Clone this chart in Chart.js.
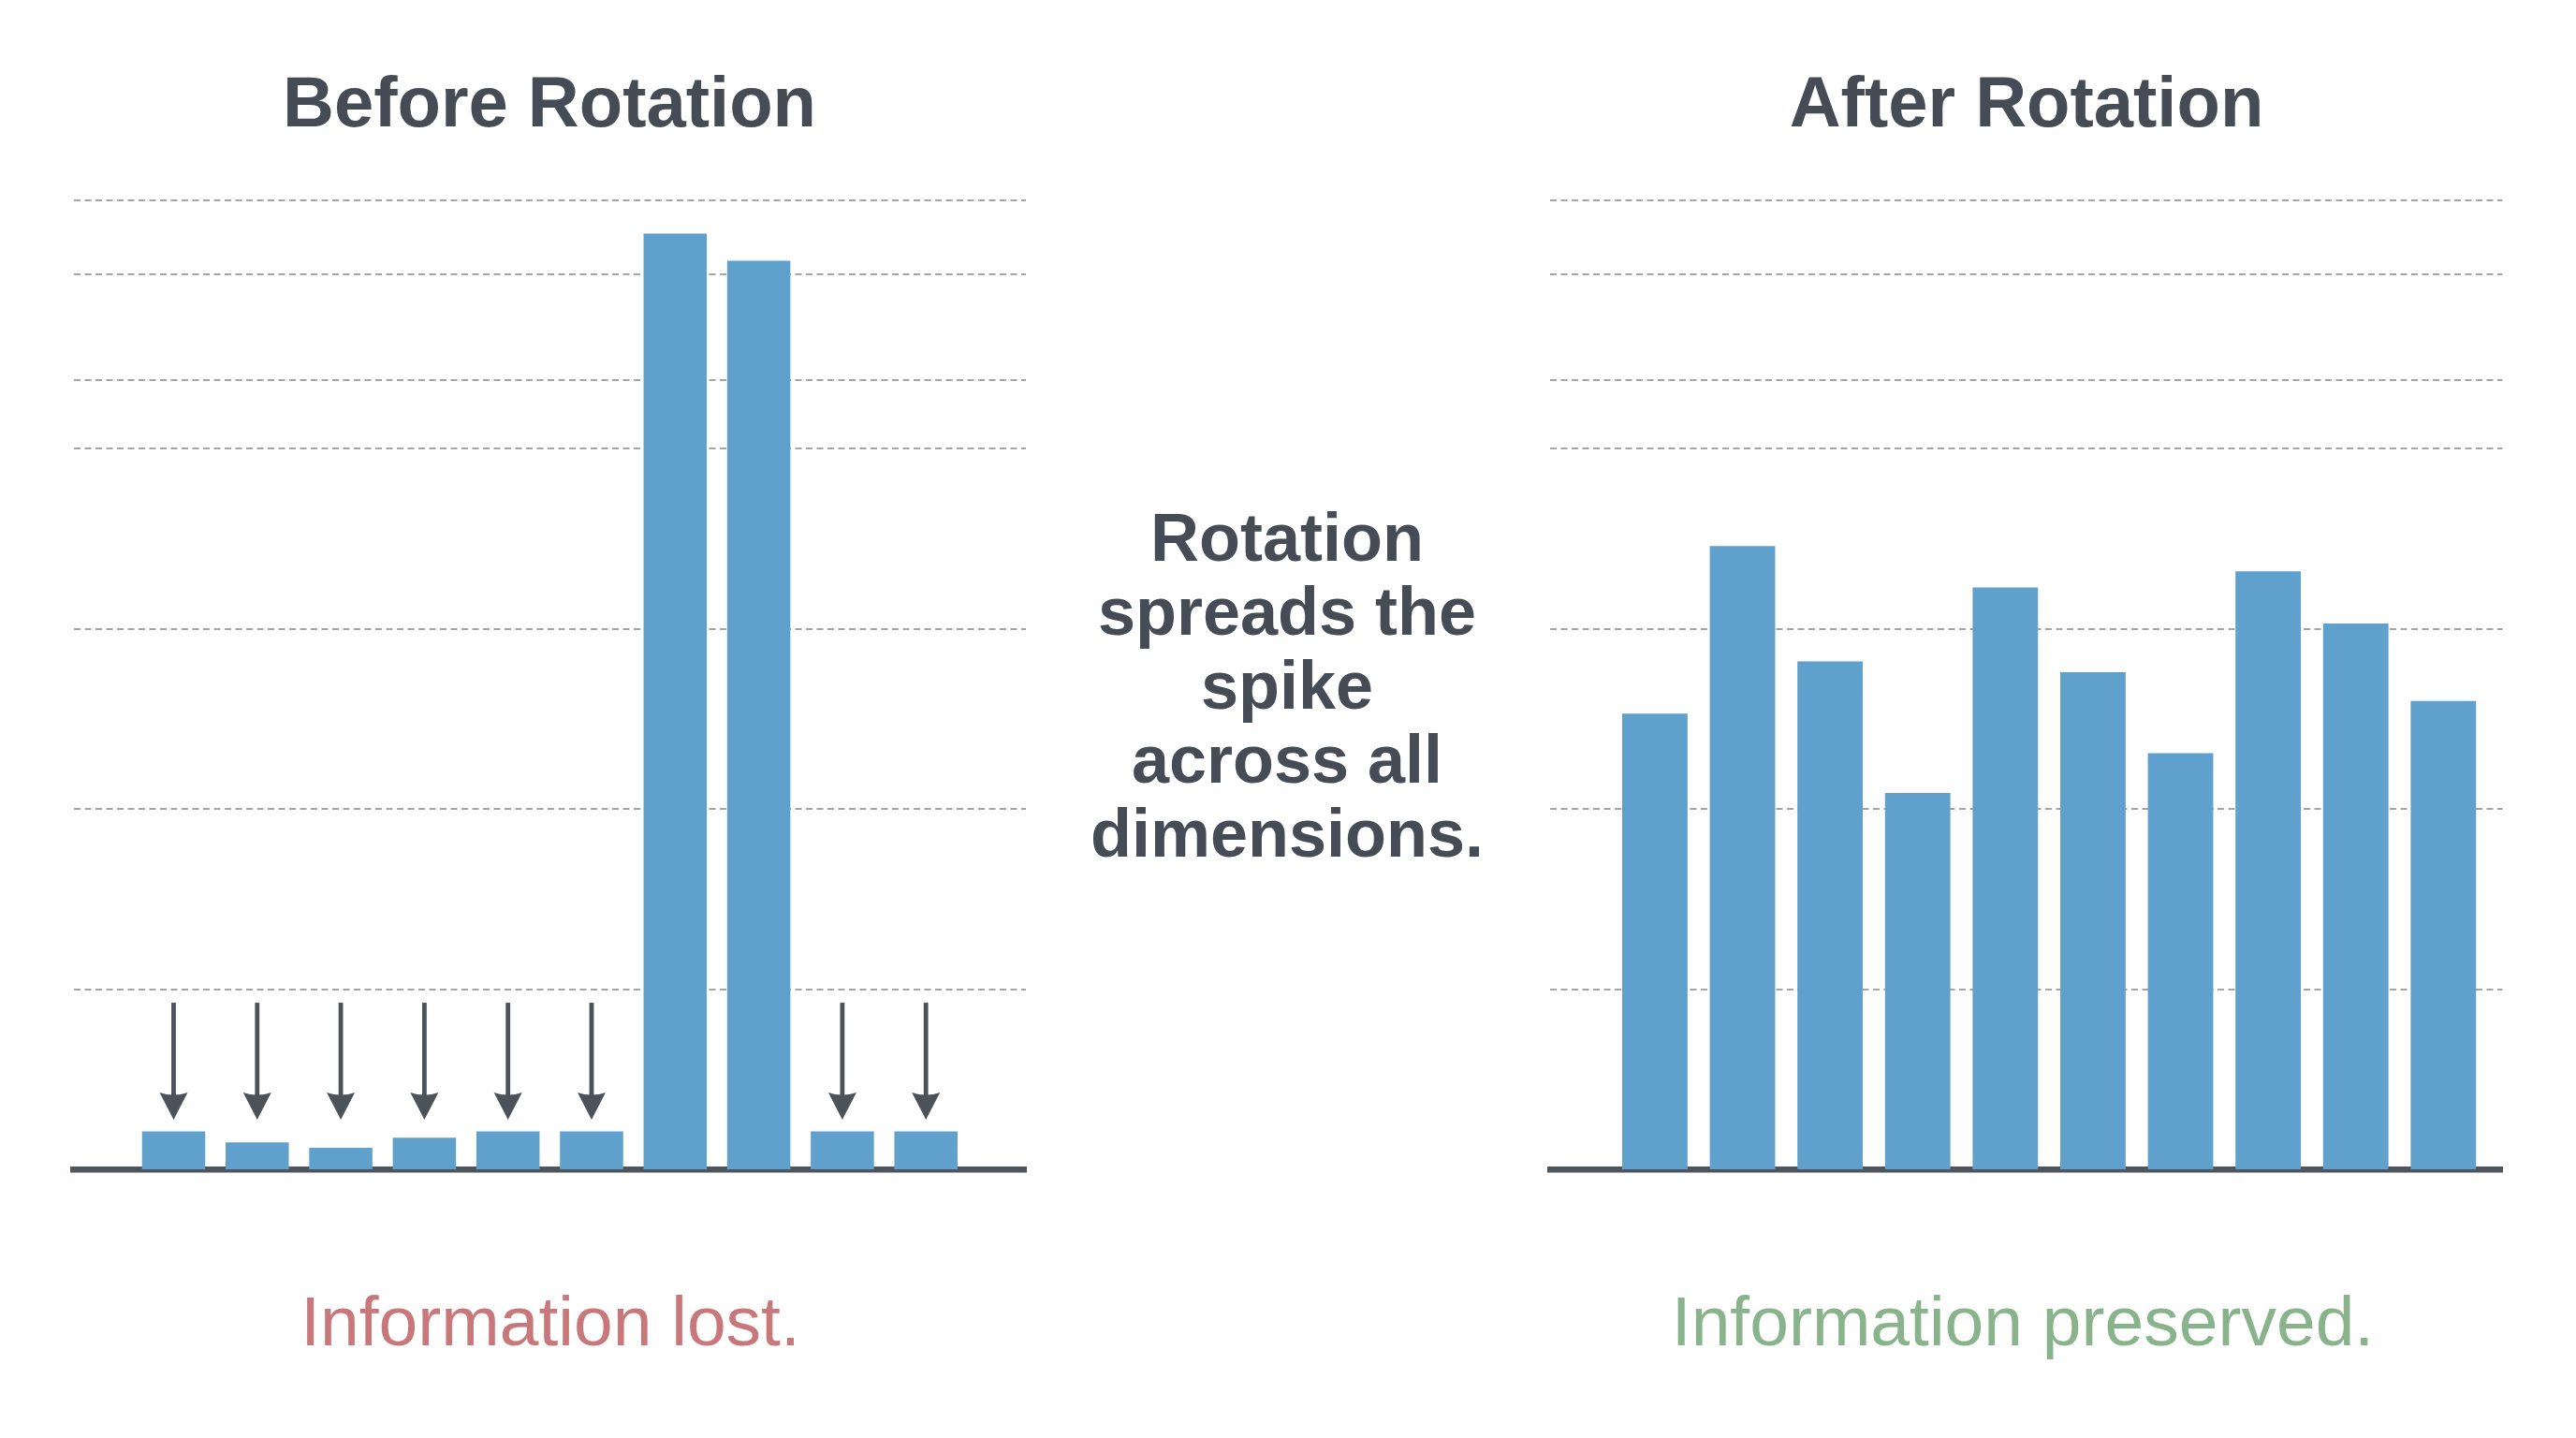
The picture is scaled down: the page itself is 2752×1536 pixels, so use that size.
<!DOCTYPE html>
<html>
<head>
<meta charset="utf-8">
<title>Rotation spreads the spike</title>
<script src="https://cdn.jsdelivr.net/npm/chart.js@4.4.1/dist/chart.umd.min.js"></script>
<style>
body{margin:0;background:#fff;width:2752px;height:1536px;position:relative;overflow:hidden;font-family:"Liberation Sans",Arial,Helvetica,sans-serif;}
canvas{position:absolute;top:0;width:1376px;height:1536px;}
#before{left:0;}
#after{left:1376px;}
.txt{position:absolute;text-align:center;white-space:nowrap;width:1200px;}
.title{font-weight:bold;font-size:76px;line-height:76px;color:#454c55;top:71px;}
.note{font-size:75px;line-height:75px;top:1374px;}
.lost{color:#c8777a;}
.kept{color:#88b38b;}
#middle{font-weight:bold;font-size:72px;line-height:79px;color:#454c55;top:535px;width:600px;left:1075px;}
</style>
</head>
<body>
<div class="txt title" style="left:-13px">Before Rotation</div>
<div class="txt title" style="left:1565px">After Rotation</div>
<div class="txt" id="middle">Rotation<br>spreads the<br>spike<br>across all<br>dimensions.</div>
<div class="txt note lost" style="left:-12px">Information lost.</div>
<div class="txt note kept" style="left:1561px">Information preserved.</div>
<canvas id="before" width="1376" height="1536"></canvas>
<canvas id="after" width="1376" height="1536"></canvas>
<script>
// dimensions 0..9
var dims = [0, 1, 2, 3, 4, 5, 6, 7, 8, 9];
// magnitude per dimension, before and after the rotation
var beforeValues = [0.21, 0.15, 0.12, 0.175, 0.21, 0.21, 5.195, 5.045, 0.21, 0.21];
var afterValues = [2.53, 3.46, 2.82, 2.09, 3.23, 2.76, 2.31, 3.32, 3.03, 2.60];
// dashed guide lines
var gridValues = [1, 2, 3, 4, 4.38, 4.97, 5.38];
// which small bars get a "lost" arrow, and the arrow span
var arrowFlags = [1, 1, 1, 1, 1, 1, 0, 0, 1, 1];
var arrowFrom = 0.925;
var arrowTo = 0.276;

var barColor = '#5fa0cc';
var darkColor = '#4b525a';

var arrowPlugin = {
	id: 'arrows',
	afterDraw: function(chart, args, opts) {
		if (!opts || !opts.flags) return;
		var ctx = chart.ctx, xs = chart.scales.x, ys = chart.scales.y;
		var y0 = ys.getPixelForValue(opts.from);
		var y1 = ys.getPixelForValue(opts.to);
		ctx.save();
		ctx.strokeStyle = darkColor;
		ctx.fillStyle = darkColor;
		ctx.lineWidth = 4.8;
		opts.flags.forEach(function(f, i) {
			if (!f) return;
			var px = xs.getPixelForValue(dims[i]);
			ctx.beginPath();
			ctx.moveTo(px, y0);
			ctx.lineTo(px, y1 - 20);
			ctx.stroke();
			ctx.beginPath();
			ctx.moveTo(px - 15, y1 - 29);
			ctx.quadraticCurveTo(px, y1 - 24, px + 15, y1 - 29);
			ctx.lineTo(px, y1);
			ctx.closePath();
			ctx.fill();
		});
		ctx.restore();
	}
};

function makeChart(id, values, xMin, xMax, barPct, pad, arrows) {
	var ctx = document.getElementById(id).getContext('2d');
	return new Chart(ctx, {
		type: 'bar',
		data: {
			datasets: [{
				data: values.map(function(v, i) { return {x: dims[i], y: v}; }),
				backgroundColor: barColor,
				borderWidth: 0,
				barPercentage: barPct,
				categoryPercentage: 1
			}]
		},
		options: {
			responsive: false,
			animation: false,
			devicePixelRatio: 1,
			layout: {padding: pad},
			plugins: {
				legend: {display: false},
				tooltip: {enabled: false},
				arrows: arrows
			},
			scales: {
				x: {
					type: 'linear',
					min: xMin,
					max: xMax,
					offset: false,
					z: 2,
					ticks: {display: false},
					grid: {display: false, drawTicks: false, offset: false},
					border: {display: true, color: '#4e555d', width: 6.5},
					afterFit: function(s) { s.height = 0; }
				},
				y: {
					min: 0,
					max: 5.38,
					z: 1,
					afterBuildTicks: function(s) {
						s.ticks = gridValues.map(function(v) { return {value: v}; });
					},
					ticks: {display: false},
					grid: {color: 'rgba(90,90,90,0.55)', lineWidth: 2, drawTicks: false, borderDash: [7, 4.5]},
					border: {display: false, dash: [7, 4.5]},
					afterFit: function(s) { s.width = 0; }
				}
			}
		},
		plugins: [arrowPlugin]
	});
}

makeChart('before', beforeValues, -1.198, 10.196, 0.756,
	{left: 78.5, right: 280, top: 214, bottom: 287},
	{flags: arrowFlags, from: arrowFrom, to: arrowTo});
makeChart('after', afterValues, -1.198, 9.675, 0.746,
	{left: 279.8, right: 78.5, top: 214, bottom: 287},
	{});
</script>
</body>
</html>
